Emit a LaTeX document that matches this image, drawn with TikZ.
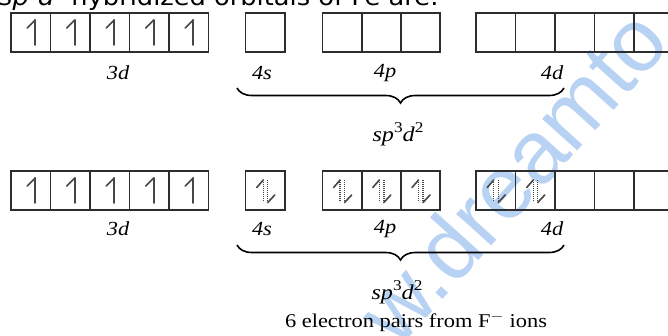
\documentclass[tikz,border=0pt]{standalone}
\usepackage{fontspec}
\setmainfont{Liberation Serif}
\newfontfamily\titlefont{DejaVu Sans}
\newfontfamily\wmfont{Liberation Sans}
\usetikzlibrary{decorations.pathreplacing}
\definecolor{boxline}{RGB}{45,45,45}
\definecolor{arrowc}{RGB}{70,70,70}
\definecolor{wmblue}{RGB}{184,210,244}
\newcommand{\hybtext}{\textit{sp}\raisebox{0.42em}{\fontsize{15}{15}\selectfont 3}\textit{d}\raisebox{0.42em}{\fontsize{15}{15}\selectfont 2}}
\begin{document}
\begin{tikzpicture}[x=1pt,y=-1pt,
  orb/.style={draw=boxline,line width=1.6pt,minimum width=39.5pt,minimum height=39pt,inner sep=0pt,outer sep=0pt},
  lbl/.style={font=\fontsize{20}{20}\selectfont\itshape,inner sep=0pt,xscale=1.12},
  hyb/.style={font=\fontsize{21}{21}\selectfont,inner sep=0pt,xscale=1.15},
  harp/.style={draw=arrowc,line width=1.6pt,line cap=round,line join=round},
  dotv/.style={draw=arrowc,line width=1.4pt,dash pattern=on 0.9pt off 1.1pt},
  bracestyle/.style={draw=black,line width=1.6pt,decorate,decoration={brace,mirror,amplitude=15pt,raise=0pt}}
]
\useasboundingbox (0,0) rectangle (668,335);
\fill[white] (0,0) rectangle (668,335);
% watermark
\node[font=\wmfont\fontsize{89}{89}\selectfont,text=wmblue,rotate=48,anchor=base west,inner sep=0pt] (wm) at (398,350) {w.dreamto};
% title (cut at top)
\node[anchor=base west,inner sep=0pt,font=\titlefont\fontsize{24}{24}\selectfont,xscale=1.07] (title) at (-1,5) {\textit{sp}$^3$\textit{d}$^2$ hybridized orbitals of Fe are:};

% ---------- row 1 ----------
\foreach \i/\x in {1/30.75,2/70.25,3/109.75,4/149.25,5/188.75} {
  \node[orb] (ra\i) at (\x,32.5) {};
  \draw[harp] (\x+4.5,20) -- (\x+4.5,45);
  \draw[harp] (\x+4.5,20) -- (\x-3.5,28);
}
\node[orb] (rb1) at (265.25,32.5) {};
\foreach \i/\x in {1/342.1,2/381.3,3/420.5} { \node[orb] (rc\i) at (\x,32.5) {}; }
\foreach \i/\x in {1/495.75,2/535.25,3/574.75,4/614.25,5/653.75} { \node[orb] (rd\i) at (\x,32.5) {}; }
\node[lbl] (l3d) at (118,73) {3d};
\node[lbl] (l4s) at (262,73) {4s};
\node[lbl] (l4p) at (385,73) {4p};
\node[lbl] (l4d) at (552,73) {4d};
\coordinate (b1l) at (237,88);
\coordinate (b1r) at (564,88);
\draw[bracestyle] (b1l) -- (b1r);
\node[hyb] (h1) at (398,134) {\hybtext};

% ---------- row 2 ----------
\foreach \i/\x in {1/30.75,2/70.25,3/109.75,4/149.25,5/188.75} {
  \node[orb] (sa\i) at (\x,190.5) {};
  \draw[harp] (\x+4.5,178) -- (\x+4.5,203);
  \draw[harp] (\x+4.5,178) -- (\x-3.5,186);
}
\node[orb] (sb1) at (265.25,190.5) {};
\foreach \i/\x in {1/342.1,2/381.3,3/420.5} { \node[orb] (sc\i) at (\x,190.5) {}; }
\foreach \i/\x in {1/495.75,2/535.25,3/574.75,4/614.25,5/653.75} { \node[orb] (sd\i) at (\x,190.5) {}; }
% paired electrons
\foreach \x in {265.25,342.1,381.3,420.5,495.75,535.25} {
  \draw[dotv] (\x-2,180) -- (\x-2,202);
  \draw[harp] (\x-2,180) -- (\x-8.5,187.5);
  \draw[dotv] (\x+2.5,180) -- (\x+2.5,202);
  \draw[harp] (\x+2.5,202.5) -- (\x+9.5,195);
}
\node[lbl] (m3d) at (118,229) {3d};
\node[lbl] (m4s) at (262,229) {4s};
\node[lbl] (m4p) at (385,229) {4p};
\node[lbl] (m4d) at (552,229) {4d};
\coordinate (b2l) at (237,245);
\coordinate (b2r) at (564,245);
\draw[bracestyle] (b2l) -- (b2r);
\node[hyb] (h2) at (397,292) {\hybtext};
\node[font=\fontsize{19.5}{19.5}\selectfont,inner sep=0pt,xscale=1.15] (ep) at (416,322) {6 electron pairs from F$^{-}$\ ions};
\end{tikzpicture}
\end{document}
